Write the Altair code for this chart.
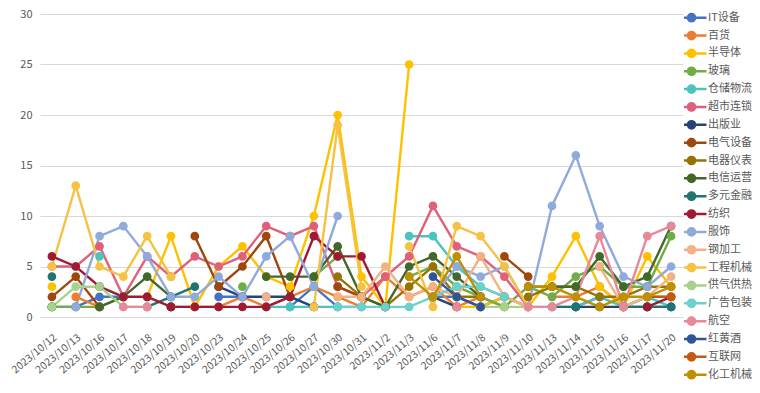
import altair as alt
import pandas as pd

N = None
dates = ["2023/10/12", "2023/10/13", "2023/10/16", "2023/10/17", "2023/10/18", "2023/10/19",
         "2023/10/20", "2023/10/23", "2023/10/24", "2023/10/25", "2023/10/26", "2023/10/27",
         "2023/10/30", "2023/10/31", "2023/11/2", "2023/11/3", "2023/11/6", "2023/11/7",
         "2023/11/8", "2023/11/9", "2023/11/10", "2023/11/13", "2023/11/14", "2023/11/15",
         "2023/11/16", "2023/11/17", "2023/11/20"]

series_names = ["IT设备", "百货", "半导体", "玻璃", "仓储物流", "超市连锁", "出版业", "电气设备",
                "电器仪表", "电信运营", "多元金融", "纺织", "服饰", "钢加工", "工程机械", "供气供热",
                "广告包装", "航空", "红黄酒", "互联网", "化工机械"]

colors = ["#4472C4", "#ED7D31", "#FFC000", "#70AD47", "#4DC3C0", "#E0607A", "#264478", "#9E480E",
          "#997300", "#43682B", "#237373", "#9E1B32", "#8FAADC", "#F4B183", "#F5C242", "#A9D18E",
          "#6BD2CB", "#E8899A", "#2F5597", "#C55A11", "#BF9000"]

v_it = [1, 1, 2, 2, N, 1, N, 2, 2, N, 1, 3, 1, N, N, N, 2, 2, 1, 2, 1, N, 1, 2, N, 1, N]
v_baihuo = [N, 2, 1, N, N, 1, 1, 1, 2, 1, 2, 3, 2, 1, 4, 2, 3, 1, 2, 1, N, 2, 2, 3, 1, 2, 2]
v_bandaoti = [3, N, N, N, 2, 8, 1, 5, 7, 4, 3, 10, 20, 4, 1, 25, N, 1, 1, 2, 1, 4, 8, 3, 1, 6, 3]
v_boli = [1, 1, 1, 2, N, N, N, N, 3, N, N, 4, 6, N, N, 4, 5, 3, 2, 1, 3, 2, 4, 5, 3, 3, 8]
v_cangchu = [N, N, 6, N, N, N, N, N, N, 1, 1, 1, 1, 1, N, 8, 8, 5, 3, 2, N, 1, 1, 2, 1, 2, 1]
v_chaoshi = [5, 5, 7, 2, 6, 4, 6, 5, 6, 9, 8, 9, 3, 2, 4, 6, 11, 7, 6, 4, 1, N, N, N, N, N, N]
v_chuban = [N, N, N, N, N, 1, N, 3, 2, 2, 2, 1, N, N, N, N, 2, 1, N, 2, N, N, 1, 1, 1, 1, 1]
v_dianqi = [2, 4, 1, N, N, N, 8, 3, 5, 8, 2, N, 3, 2, N, N, 2, N, N, 6, 4, N, N, N, N, N, N]
v_yibiao = [N, N, N, N, 2, N, N, N, N, N, N, N, 4, 2, 1, 3, 5, 2, 2, N, 2, 3, 3, 2, 2, 3, 3]
v_dianxin = [1, N, 1, 2, 4, 2, N, N, N, 4, 4, 4, 7, 2, 1, 5, 6, 4, 2, N, 3, 3, 3, 6, 3, 4, 9]
v_duoyuan = [4, N, N, N, 1, 2, 3, N, N, N, N, N, N, N, N, N, N, N, N, N, N, 1, 1, N, 1, 1, 1]
v_fangzhi = [6, 5, 3, 2, 2, 1, 1, 1, 1, 1, 2, 8, 6, 6, 1, N, N, N, 1, N, N, N, N, N, N, 1, 2]
v_fushi = [N, 1, 8, 9, 6, 2, 2, 4, 2, 6, 8, 3, 10, N, N, N, 2, 5, 4, 5, 1, 11, 16, 9, 4, 3, 5]
v_gangjia = [N, N, N, N, N, N, N, N, N, 2, N, N, 2, 2, 5, 2, 3, 2, 6, 2, 1, N, N, 5, 1, 2, 4]
v_gongcheng = [5, 13, 5, 4, 8, 4, N, N, N, N, N, 1, 19, 3, N, 7, 1, 9, 8, 5, 1, N, N, N, N, N, N]
v_gongqi = [1, 3, 3, 1, 1, N, N, N, N, N, N, N, N, N, N, N, N, N, 1, 1, 1, 1, N, N, N, N, N]
v_guanggao = [N, N, N, N, N, N, N, N, N, N, N, N, 1, 1, 1, 1, 2, 3, 3, 2, N, N, N, N, N, N, N]
v_hangkong = [N, N, N, 1, 1, N, N, N, N, N, N, N, N, N, N, N, N, 1, N, N, 1, 1, 2, 8, 1, 8, 9]
v_hongjiu = [N, N, N, N, N, N, N, N, N, N, N, N, N, N, N, N, 4, 2, 1, N, N, N, N, N, N, N, N]
v_hulianwang = [N, N, N, N, N, N, N, N, N, N, N, N, N, N, N, N, N, N, 2, N, N, N, N, N, N, 2, 2]
v_huagong = [N, N, N, N, N, N, N, N, N, N, N, N, N, N, N, 4, 2, 6, 2, N, 3, 3, 2, 1, 2, 2, 3]

all_values = [v_it, v_baihuo, v_bandaoti, v_boli, v_cangchu, v_chaoshi, v_chuban, v_dianqi,
              v_yibiao, v_dianxin, v_duoyuan, v_fangzhi, v_fushi, v_gangjia, v_gongcheng,
              v_gongqi, v_guanggao, v_hangkong, v_hongjiu, v_hulianwang, v_huagong]

rows = []
for name, vals in zip(series_names, all_values):
    for d, v in zip(dates, vals):
        rows.append({"date": d, "series": name, "value": v})
df = pd.DataFrame(rows)

FONT = "Noto Sans CJK SC"
scale = alt.Scale(domain=series_names, range=colors)
legend_path = ("M-2.5,0L2.5,0M-0.6,0A0.6,0.6 0 1,0 0.6,0A0.6,0.6 0 1,0 -0.6,0Z")
legend = alt.Legend(title=None, orient="none", legendX=644, legendY=-2.3,
                    symbolType=legend_path, symbolSize=144, symbolStrokeWidth=2.5,
                    labelFontSize=11, labelFont=FONT, labelColor="#595959",
                    labelOffset=9, rowPadding=5.85, clipHeight=12, padding=0)

x_enc = alt.X("date:N", sort=dates, title=None,
              axis=alt.Axis(labelAngle=-40, domain=False, ticks=False, grid=False,
                            labelFontSize=10.5, labelColor="#595959", labelFont=FONT,
                            labelPadding=15))
y_enc = alt.Y("value:Q", scale=alt.Scale(domain=[0, 30]), title=None,
              axis=alt.Axis(values=[0, 5, 10, 15, 20, 25, 30], domain=False, ticks=False,
                            gridColor="#D9D9D9", labelColor="#595959", labelFontSize=11,
                            labelFont=FONT, labelPadding=8))

lines = alt.Chart(df).mark_line(strokeWidth=2.4, invalid="break-paths-show-domains").encode(
    x=x_enc, y=y_enc,
    stroke=alt.Stroke("series:N", scale=scale, sort=series_names, legend=legend),
    detail="series:N",
)
points = alt.Chart(df).transform_filter("isValid(datum.value)").mark_point(
    filled=True, size=45, opacity=1).encode(
    x=x_enc, y=y_enc,
    fill=alt.Fill("series:N", scale=scale, sort=series_names, legend=legend),
    stroke=alt.Stroke("series:N", scale=scale, sort=series_names, legend=legend),
)

chart = alt.layer(lines, points).properties(
    width=643, height=303,
    autosize=alt.AutoSizeParams(type="none"),
    padding={"left": 32, "top": 6, "right": 69, "bottom": 68},
).configure_view(stroke=None)

chart.save("out.html", embed_options={"renderer": "svg", "actions": False})
